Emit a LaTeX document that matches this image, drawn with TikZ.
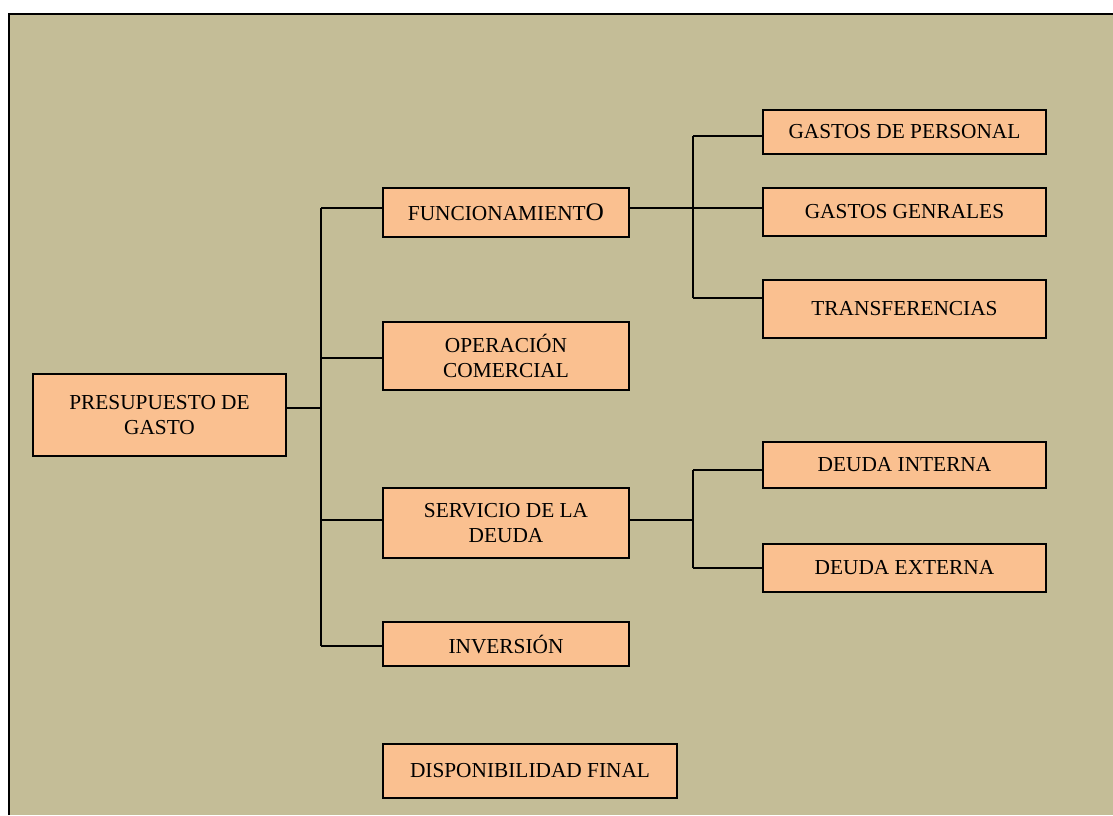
\documentclass[tikz,border=0pt]{standalone}
\usepackage{fontspec}
\setmainfont{Liberation Serif}
\usepackage{tikz}
\usepackage{xcolor}
\usetikzlibrary{
    calc,
    positioning
}
\definecolor{fondo}{HTML}{C4BD97}
\definecolor{naranja}{HTML}{FAC090}
\tikzset{
    bloque/.style={draw=black, fill=naranja, line width=1.1pt, rectangle, inner sep=0pt,
        align=center, font=\fontsize{16}{18.75}\selectfont},
    linea/.style={line width=1pt}
}

\begin{document}
\begin{tikzpicture}[x=0.75pt, y=-0.75pt]
    \useasboundingbox (0, 0) rectangle (1113, 815);
    \fill[fondo] (9, 14) rectangle (1113, 815);
    \draw[line width=1.5pt] (9, 815) -- (9, 14) -- (1113, 14);

    \node[bloque, minimum width=189.75pt, minimum height=61.5pt] (pres) at (159.5, 415) {PRESUPUESTO DE\\GASTO};
    \node[bloque, minimum width=184.5pt, minimum height=36.75pt] (func) at (506, 212.5) {FUNCIONAMIENT{\fontsize{19}{19}\selectfont O}};
    \node[bloque, minimum width=184.5pt, minimum height=51pt] (oper) at (506, 356) {OPERACIÓN\\COMERCIAL};
    \node[bloque, minimum width=184.5pt, minimum height=52.5pt] (serv) at (506, 523) {SERVICIO DE LA\\DEUDA};
    \node[bloque, minimum width=184.5pt, minimum height=33pt] (inver) at (506, 644) {INVERSIÓN};
    \node[bloque, minimum width=220.5pt, minimum height=40.5pt] (dispo) at (530, 771) {DISPONIBILIDAD FINAL};
    \node[bloque, minimum width=212.25pt, minimum height=33pt] (gpers) at (904.5, 132) {GASTOS DE PERSONAL};
    \node[bloque, minimum width=212.25pt, minimum height=36pt] (ggen) at (904.5, 212) {GASTOS GENRALES};
    \node[bloque, minimum width=212.25pt, minimum height=43.5pt] (transf) at (904.5, 309) {TRANSFERENCIAS};
    \node[bloque, minimum width=212.25pt, minimum height=34.5pt] (dint) at (904.5, 465) {DEUDA INTERNA};
    \node[bloque, minimum width=212.25pt, minimum height=36pt] (dext) at (904.5, 568) {DEUDA EXTERNA};

    \coordinate (jf) at (321, 208);
    \coordinate (jo) at (321, 358);
    \coordinate (jp) at (321, 408);
    \coordinate (js) at (321, 520);
    \coordinate (ji) at (321, 646);
    \coordinate (kf1) at (693, 136);
    \coordinate (kf2) at (693, 208);
    \coordinate (kf3) at (693, 298);
    \coordinate (kd1) at (693, 470);
    \coordinate (kd2) at (693, 520);
    \coordinate (kd3) at (693, 568);

    \draw[linea] (jf) -- (ji);
    \draw[linea] (jp -| pres.east) -- (jp);
    \foreach \j/\n in {jf/func, jo/oper, js/serv, ji/inver}
        \draw[linea] (\j) -- (\j -| \n.west);

    \draw[linea] (kf1) -- (kf3);
    \draw[linea] (kf2 -| func.east) -- (kf2 -| ggen.west);
    \draw[linea] (kf1) -- (kf1 -| gpers.west);
    \draw[linea] (kf3) -- (kf3 -| transf.west);

    \draw[linea] (kd1) -- (kd3);
    \draw[linea] (kd2 -| serv.east) -- (kd2);
    \draw[linea] (kd1) -- (kd1 -| dint.west);
    \draw[linea] (kd3) -- (kd3 -| dext.west);
\end{tikzpicture}
\end{document}
